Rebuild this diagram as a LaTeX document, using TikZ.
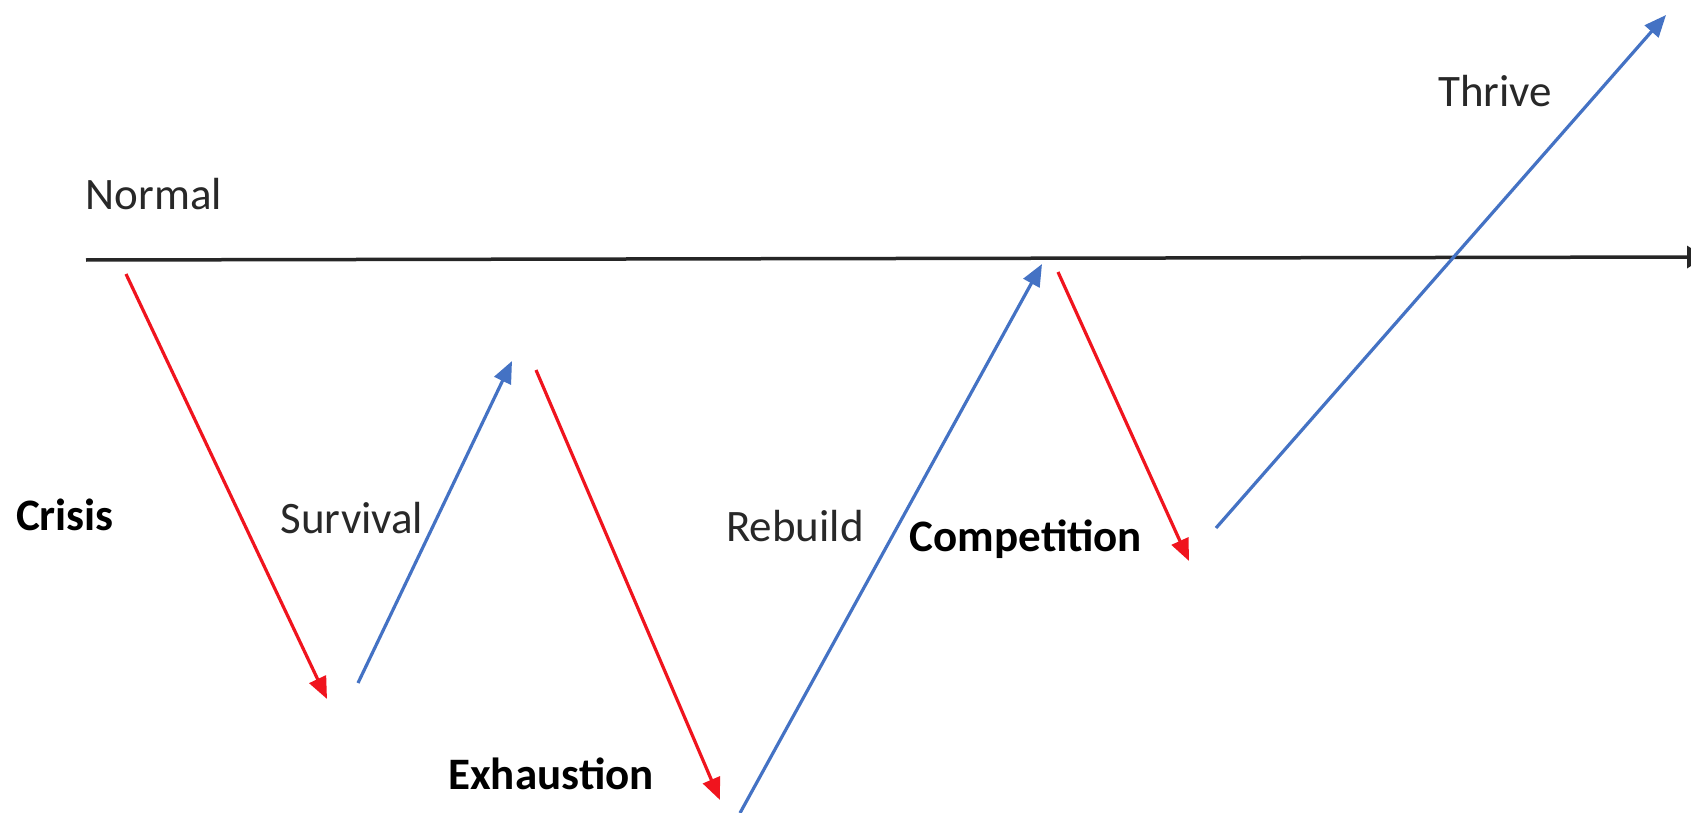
\documentclass[tikz,border=0pt]{standalone}
\usepackage{fontspec}
\setmainfont{Carlito}
\usetikzlibrary{arrows.meta}
\definecolor{downred}{RGB}{240,20,30}
\definecolor{upblue}{RGB}{68,114,196}
\definecolor{labelgray}{RGB}{40,40,40}
\begin{document}
\begin{tikzpicture}[x=1pt,y=-1pt,
  phase/.style={font=\fontsize{45}{54}\selectfont, text=labelgray, inner sep=0pt},
  keyphase/.style={phase, font=\fontsize{45}{54}\selectfont\bfseries, text=black},
  fall/.style={draw=downred, line width=3.2pt, -{Triangle[length=22pt,width=18pt]}},
  rise/.style={draw=upblue, line width=3.2pt, -{Triangle[length=22pt,width=18pt]}},
  baseline axis/.style={draw=black!85, line width=3.5pt, -{Triangle[length=18pt,width=22pt]}}]
\useasboundingbox (0,0) rectangle (1691,813);
\fill[white] (0,0) rectangle (1691,813);

% the "normal" level; its arrow tip runs past the right edge
\coordinate (axL) at (86,260);
\coordinate (axR) at (1705,257);
\draw[baseline axis] (axL) -- (axR);

% end points of the phase arrows
\coordinate (c1) at (126,274);  \coordinate (c2) at (327,699);
\coordinate (s1) at (358,683);  \coordinate (s2) at (512,361);
\coordinate (e1) at (536,370);  \coordinate (e2) at (720,800);
\coordinate (r1) at (740,813);  \coordinate (r2) at (1042,264);
\coordinate (p1) at (1058,272); \coordinate (p2) at (1189,561);
\coordinate (t1) at (1216,528); \coordinate (t2) at (1666,15);

\draw[fall] (c1) -- (c2);
\draw[rise] (s1) -- (s2);
\draw[fall] (e1) -- (e2);
\draw[rise] (r1) -- (r2);
\draw[fall] (p1) -- (p2);
\draw[rise] (t1) -- (t2);

% phase labels
\node[phase]    (normal)      at (154,194)  {Normal};
\node[phase]    (thrive)      at (1495,91)  {Thrive};
\node[keyphase] (crisis)      at (65,515)   {Crisis};
\node[phase]    (survival)    at (352,518)  {Survival};
\node[phase]    (rebuild)     at (795,526)  {Rebuild};
\node[keyphase] (competition) at (1026,539) {Competition};
\node[keyphase] (exhaustion)  at (551,774)  {Exhaustion};
\end{tikzpicture}
\end{document}
